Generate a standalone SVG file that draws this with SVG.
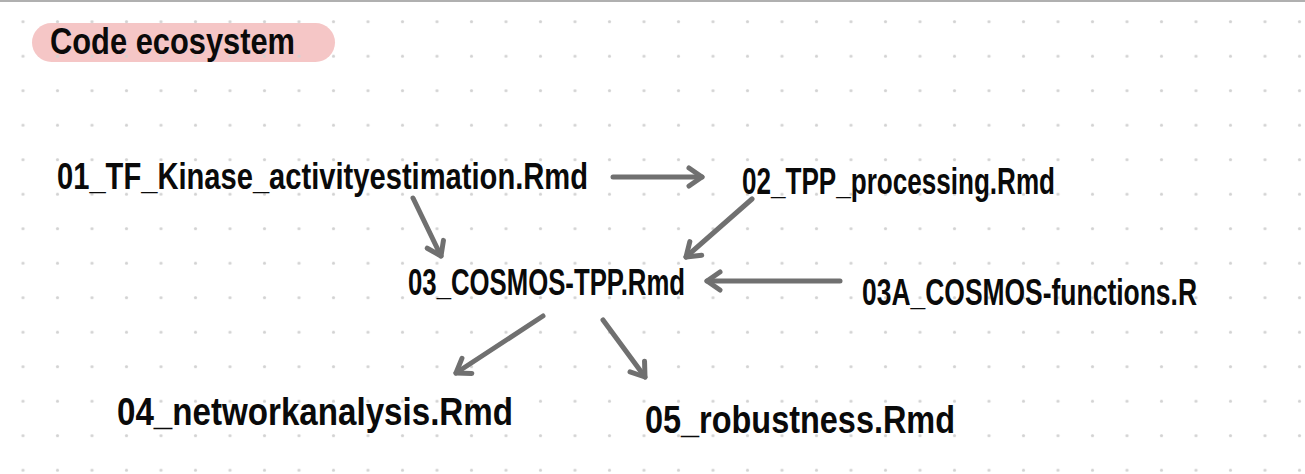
<svg xmlns="http://www.w3.org/2000/svg" width="1305" height="474" viewBox="0 0 1305 474">
  <style>
    .lbl { font-family: "Liberation Sans", "DejaVu Sans", sans-serif; font-weight: 700; fill: #0a0a0a; }
    .edge { stroke: #707070; stroke-width: 5; stroke-linecap: round; fill: none; }
  </style>
  <defs>
    <pattern id="dots" x="5.75" y="4.45" width="34.5" height="34.5" patternUnits="userSpaceOnUse">
      <circle cx="17.25" cy="17.25" r="1.6" fill="#d2d2d2"/>
    </pattern>
    <marker id="head" viewBox="0 0 24 24" refX="20" refY="12" markerWidth="24" markerHeight="24" markerUnits="userSpaceOnUse" orient="auto">
      <path d="M7,3 L20,12 L7,21" fill="none" stroke="#707070" stroke-width="5" stroke-linecap="round" stroke-linejoin="round"/>
    </marker>
  </defs>

  <rect width="1305" height="474" fill="#ffffff"/>
  <rect x="32" y="23" width="303" height="39" rx="19.5" fill="#f5c6c6"/>
  <rect width="1305" height="474" fill="url(#dots)"/>
  <rect x="0" y="0" width="1305" height="2" fill="#b0b0b0"/>

  <g id="title">
    <text class="lbl" x="50" y="54" font-size="36" textLength="245" lengthAdjust="spacingAndGlyphs">Code ecosystem</text>
  </g>

  <g id="connectors">
    <line class="edge" x1="613" y1="177" x2="702" y2="177" marker-end="url(#head)"/>
    <line class="edge" x1="413" y1="198" x2="441" y2="256" marker-end="url(#head)"/>
    <line class="edge" x1="752" y1="199" x2="686" y2="257" marker-end="url(#head)"/>
    <line class="edge" x1="840" y1="281" x2="707" y2="281" marker-end="url(#head)"/>
    <line class="edge" x1="543" y1="316" x2="456" y2="373" marker-end="url(#head)"/>
    <line class="edge" x1="603" y1="320" x2="645" y2="377" marker-end="url(#head)"/>
  </g>

  <g id="n01">
    <text class="lbl" x="57" y="189" font-size="37" textLength="531" lengthAdjust="spacingAndGlyphs">01_TF_Kinase_activityestimation.Rmd</text>
  </g>
  <g id="n02">
    <text class="lbl" x="742" y="194" font-size="37" textLength="313" lengthAdjust="spacingAndGlyphs">02_TPP_processing.Rmd</text>
  </g>
  <g id="n03">
    <text class="lbl" x="408" y="295" font-size="37" textLength="277" lengthAdjust="spacingAndGlyphs">03_COSMOS-TPP.Rmd</text>
  </g>
  <g id="n03A">
    <text class="lbl" x="862" y="305" font-size="37" textLength="335" lengthAdjust="spacingAndGlyphs">03A_COSMOS-functions.R</text>
  </g>
  <g id="n04">
    <text class="lbl" x="117" y="425" font-size="39" textLength="396" lengthAdjust="spacingAndGlyphs">04_networkanalysis.Rmd</text>
  </g>
  <g id="n05">
    <text class="lbl" x="645" y="433" font-size="39" textLength="310" lengthAdjust="spacingAndGlyphs">05_robustness.Rmd</text>
  </g>
</svg>
